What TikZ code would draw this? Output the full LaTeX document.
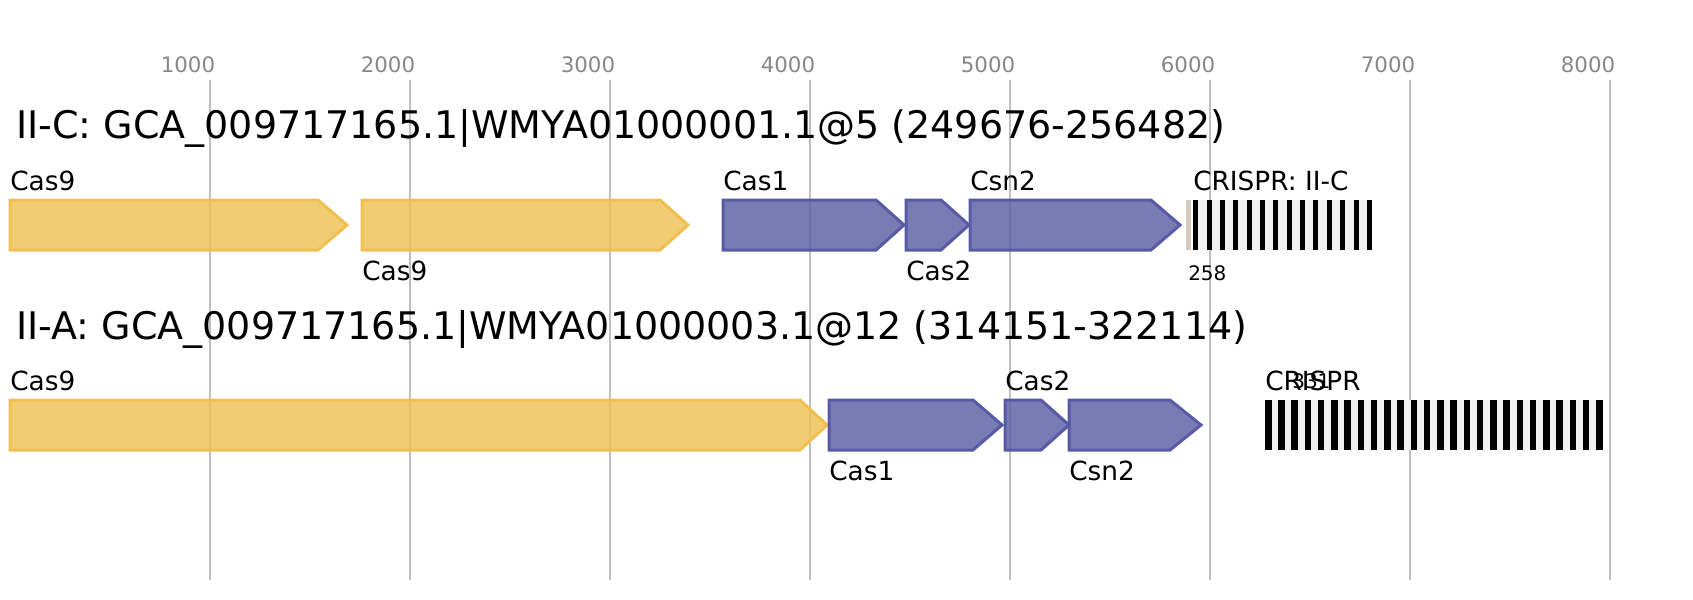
\documentclass[tikz,border=0pt]{standalone}
\usepackage{fontspec}
\setmainfont{DejaVu Sans}
\definecolor{cyel}{RGB}{239,192,80}
\definecolor{cblu}{RGB}{88,90,163}
\definecolor{gridgray}{RGB}{190,190,190}
\definecolor{rulergray}{RGB}{136,136,136}
\definecolor{leadc}{RGB}{215,200,190}
\definecolor{spacerc}{RGB}{240,240,240}
\newcommand\genearrow[5]{\draw[#1] (#2,#5) -- (#3,#5) -- (#4,#5+25) -- (#3,#5+50) -- (#2,#5+50) -- cycle;}
\begin{document}
\begin{tikzpicture}[x=0.75pt,y=-0.75pt,
  gridline/.style={draw=gridgray, line width=1.5pt},
  ruler/.style={font=\fontsize{16}{17}\selectfont, text=rulergray, anchor=base, inner sep=0pt},
  title/.style={font=\fontsize{28.5}{30}\selectfont, anchor=base west, inner sep=0pt},
  lab/.style={font=\fontsize{19.75}{21}\selectfont, anchor=base west, inner sep=0pt},
  small/.style={font=\fontsize{15}{16}\selectfont, anchor=base west, inner sep=0pt},
  gene/.style={line width=2.25pt, line join=miter, fill opacity=0.8},
  yel/.style={gene, draw=cyel, fill=cyel},
  blu/.style={gene, draw=cblu, fill=cblu}]
\useasboundingbox (0,0) rectangle (1693,600);
\fill[white] (0,0) rectangle (1693,600);
% grid and ruler
\foreach \i in {1,...,8}{
  \coordinate (gt\i) at (10+\i*200,80);
  \coordinate (gb\i) at (10+\i*200,580);
  \draw[gridline] (gt\i) -- (gb\i);
  \node[ruler] (r\i) at (10+\i*200-22,72) {\i000};
}
% row 1
\node[title] (t1) at (16,138) {II-C: GCA\_009717165.1|WMYA01000001.1@5 (249676-256482)};
\genearrow{yel}{10}{318}{347}{200}
\genearrow{yel}{362}{660}{688}{200}
\genearrow{blu}{723}{876}{904}{200}
\genearrow{blu}{906}{941}{969}{200}
\genearrow{blu}{970}{1151}{1180}{200}
\fill[leadc] (1186,200) rectangle (1191,250);
\fill[spacerc] (1193,200) rectangle (1372,250);
\foreach \k in {0,...,13}{\fill[black] (1193.3+\k*13.35,200) rectangle ++(5,50);}
\node[lab] (l1a) at (10,190) {Cas9};
\node[lab] (l1b) at (362,280) {Cas9};
\node[lab] (l1c) at (723,190) {Cas1};
\node[lab] (l1d) at (906,280) {Cas2};
\node[lab] (l1e) at (970,190) {Csn2};
\node[lab] (l1f) at (1193,190) {CRISPR: II-C};
\node[small] (n1) at (1188,280) {258};
% row 2
\node[title] (t2) at (16,339) {II-A: GCA\_009717165.1|WMYA01000003.1@12 (314151-322114)};
\genearrow{yel}{10}{800}{827}{400}
\genearrow{blu}{829}{973}{1002}{400}
\genearrow{blu}{1005}{1041}{1069}{400}
\genearrow{blu}{1069}{1170}{1201}{400}
\fill[spacerc] (1265,400) rectangle (1603,450);
\foreach \k in {0,...,25}{\fill[black] (1265+\k*13.24,400) rectangle ++(6.5,50);}
\node[lab] (l2a) at (10,390) {Cas9};
\node[lab] (l2b) at (829,480) {Cas1};
\node[lab] (l2c) at (1005,390) {Cas2};
\node[lab] (l2d) at (1069,480) {Csn2};
\node[lab] (l2e) at (1265,390) {CRISPR};
\node[small] (n2) at (1292,388) {331};
\end{tikzpicture}
\end{document}
